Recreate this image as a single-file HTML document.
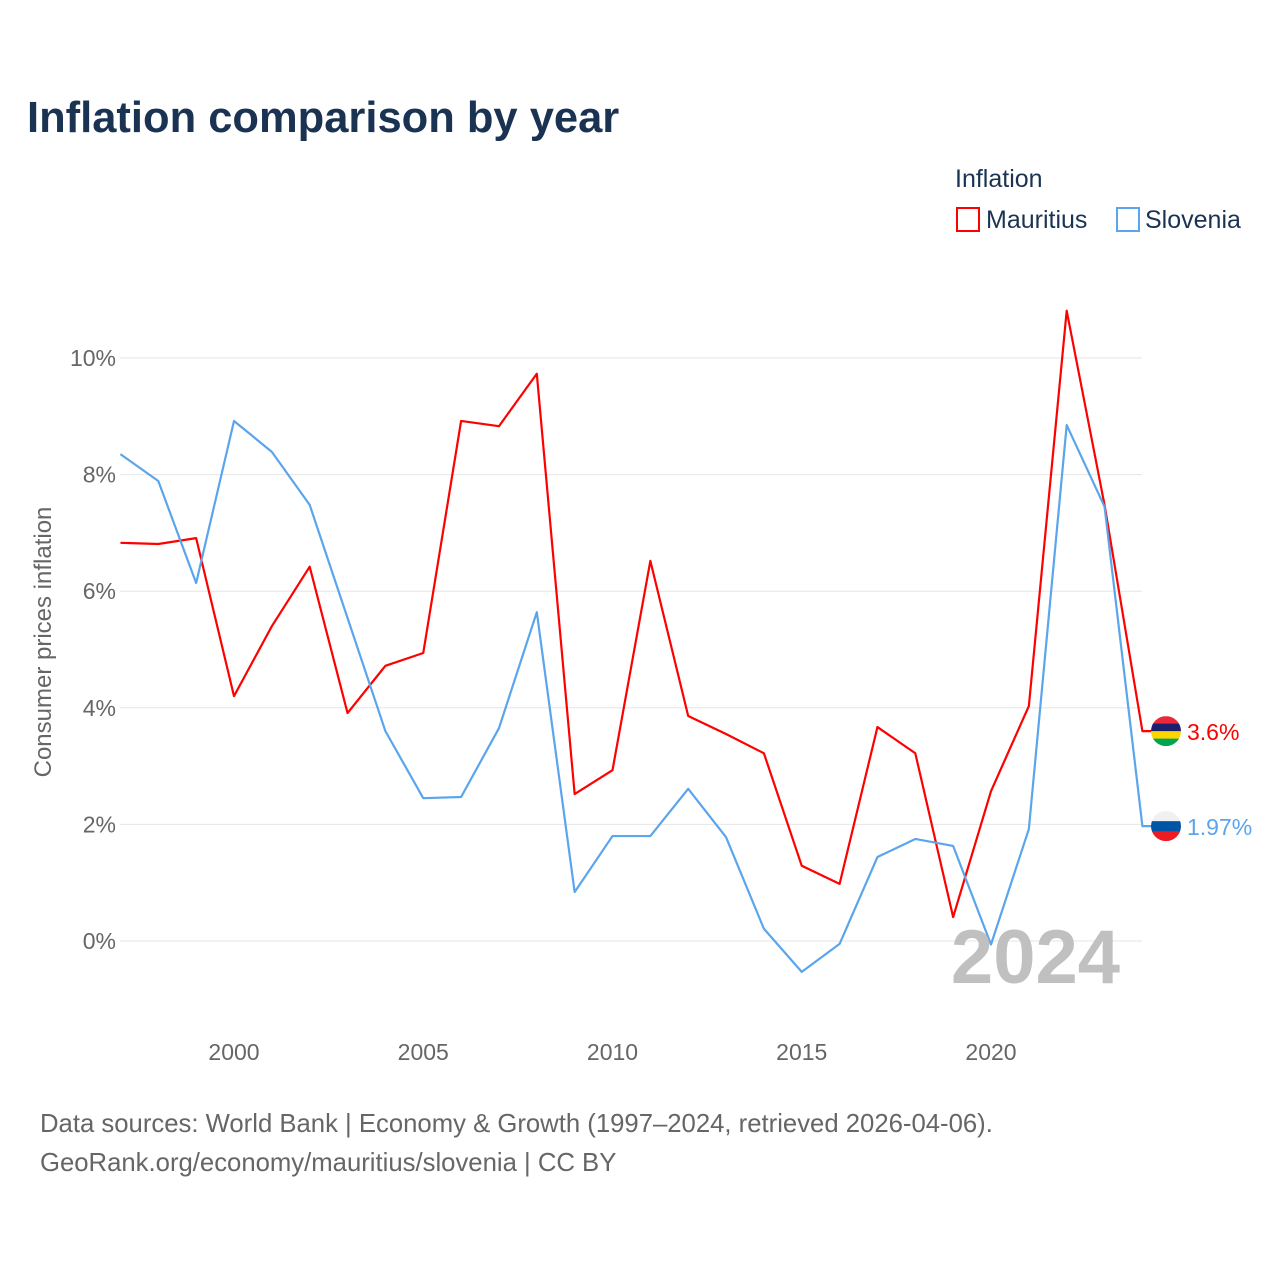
<!DOCTYPE html>
<html><head><meta charset="utf-8"><style>
body{margin:0;background:#fff;font-family:"Liberation Sans",sans-serif;}
svg text{font-family:"Liberation Sans",sans-serif;}
</style></head><body>
<svg id="c" width="1280" height="1280">
<text x="27" y="132" font-size="43.5" font-weight="bold" fill="#1b3353">Inflation comparison by year</text>
<text x="955" y="187" font-size="25" fill="#1b3353">Inflation</text>
<g><rect x="957" y="208" width="22" height="23" fill="none" stroke="#f00" stroke-width="2"/><text x="986" y="228" font-size="25" fill="#1b3353">Mauritius</text></g>
<g><rect x="1117" y="208" width="22" height="23" fill="none" stroke="#5aa5ec" stroke-width="2"/><text x="1145" y="228" font-size="25" fill="#1b3353">Slovenia</text></g>
<text transform="translate(51,642) rotate(-90)" text-anchor="middle" font-size="24" fill="#666">Consumer prices inflation</text>
<g id="grid"></g><g id="marks"></g>
<text x="1120" y="983" text-anchor="end" font-size="76" font-weight="bold" fill="#c0c0c0">2024</text>
<text x="40" y="1132" font-size="25.7" fill="#666">Data sources: World Bank | Economy &amp; Growth (1997–2024, retrieved 2026-04-06).</text>
<text x="40" y="1171" font-size="25.7" fill="#666">GeoRank.org/economy/mauritius/slovenia | CC BY</text>
</svg>
<script>
const years=[1997,1998,1999,2000,2001,2002,2003,2004,2005,2006,2007,2008,2009,2010,2011,2012,2013,2014,2015,2016,2017,2018,2019,2020,2021,2022,2023,2024];
const mauritius=[6.83,6.81,6.91,4.20,5.40,6.42,3.91,4.72,4.94,8.92,8.83,9.73,2.52,2.93,6.52,3.86,3.55,3.22,1.29,0.98,3.67,3.22,0.41,2.57,4.03,10.81,7.48,3.6];
const slovenia=[8.35,7.89,6.14,8.92,8.39,7.48,5.54,3.60,2.45,2.47,3.65,5.64,0.84,1.80,1.80,2.61,1.78,0.21,-0.53,-0.05,1.44,1.75,1.63,-0.06,1.92,8.85,7.45,1.97];
const yTicks=[0,2,4,6,8,10];
const xTicks=[2000,2005,2010,2015,2020];
const X=y=>234+(y-2000)*37.85, Y=v=>941-v*58.3;
const NS="http://www.w3.org/2000/svg";
function mk(t,a,p){const e=document.createElementNS(NS,t);for(const k in a)e.setAttribute(k,a[k]);p.appendChild(e);return e;}
const g=document.getElementById('grid'), m=document.getElementById('marks');
yTicks.forEach(v=>{
 const l=mk('line',{x1:120,x2:1142,y1:Y(v),y2:Y(v),stroke:'#e6e6e6','stroke-width':1},g);
 
 
 const t=mk('text',{x:116,y:Y(v)+8,'text-anchor':'end','font-size':23,fill:'#666'},g);
 t.textContent=v+'%';
 
 
});
xTicks.forEach(v=>{
 const t=mk('text',{x:X(v),y:1060,'text-anchor':'middle','font-size':23,fill:'#666'},g);
 t.textContent=v;
 
 
});
function series(vals,col,name,label){
 const pts=vals.map((v,i)=>X(years[i])+','+Y(v));
 const last=vals[vals.length-1];
 pts.push((X(years[years.length-1])+12)+','+Y(last));
 const p=mk('polyline',{points:pts.join(' '),fill:'none',stroke:col,'stroke-width':2.2,'stroke-linejoin':'round'},m);
 
 
 const t=mk('text',{x:1187,y:Y(last)+9,'font-size':23,fill:col},m);
 t.textContent=label;
 
 
 return Y(last);
}
const ym=series(mauritius,'#f00','mauritius','3.6%');
const ys=series(slovenia,'#5aa5ec','slovenia','1.97%');
function flag(cy,cols,name){
 const grp=mk('g',{},m);
 
 
 const id='cl'+name;
 const cp=mk('clipPath',{id:id},grp);mk('circle',{cx:1166,cy:cy,r:15},cp);
 const h=30/cols.length;
 cols.forEach((c,i)=>mk('rect',{x:1151,y:cy-15+i*h,width:30,height:h+0.5,fill:c,'clip-path':'url(#'+id+')'},grp));
}
flag(ym,['#ea2839','#1a206d','#ffd500','#00a551'],'mauritius-flag');
flag(ys,['#f0f0f0','#0055a5','#ed1c24'],'slovenia-flag');
</script>
</body></html>
